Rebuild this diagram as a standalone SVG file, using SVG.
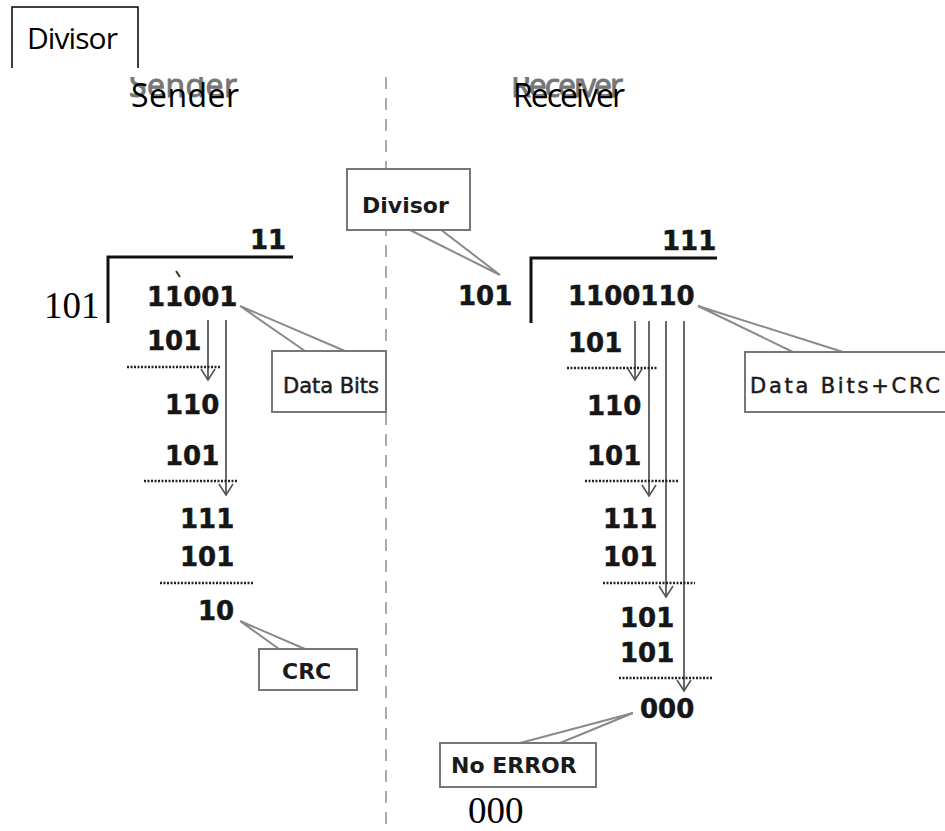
<svg xmlns="http://www.w3.org/2000/svg" width="945" height="831" viewBox="0 0 945 831">
<style>
.bd{font-family:"DejaVu Sans",Verdana,sans-serif;font-weight:bold;font-size:26px;fill:#161616;stroke:#161616;stroke-width:0.5}
.lbl{font-family:"DejaVu Sans",Verdana,sans-serif;font-size:21px;fill:#1a1a1a;stroke:#1a1a1a;stroke-width:0.5}
.lblb{font-family:"DejaVu Sans",Verdana,sans-serif;font-weight:bold;font-size:22px;fill:#1a1a1a}
.ser{font-family:"Liberation Serif","Times New Roman",serif;font-size:37px;fill:#000}
.hd{font-family:"Open Sans","Noto Sans",sans-serif;font-size:32px;fill:#000}
.ghost{font-family:"Open Sans","Noto Sans",sans-serif;font-size:32px;fill:#555;stroke:#555;stroke-width:1;opacity:0.8}
.box{fill:#fff;stroke:#777;stroke-width:2}
.call{fill:none;stroke:#8a8a8a;stroke-width:2}
.arr{fill:none;stroke:#444;stroke-width:1.6}
.dot{fill:none;stroke:#222;stroke-width:2.5;stroke-dasharray:2 1.5}
.rule{fill:none;stroke:#111;stroke-width:3}
</style>
<defs>
<marker id="ah" viewBox="-13 -9 15 18" refX="0" refY="0" markerUnits="userSpaceOnUse" markerWidth="15" markerHeight="18" orient="auto">
<path d="M-11,-7 L0,0 L-11,7" fill="none" stroke="#555" stroke-width="1.6"/>
</marker>
<clipPath id="gc"><rect x="100" y="77" width="600" height="30"/></clipPath>
</defs>
<rect width="945" height="831" fill="#fff"/>

<g id="divider">
<line x1="386" y1="77" x2="386" y2="831" stroke="#aaa" stroke-width="2" stroke-dasharray="12 9"/>
</g>

<g id="legend-divisor">
<path d="M12,68 V7 H138 V68" fill="none" stroke="#000" stroke-width="1.5"/>
<text x="27" y="49" font-family="'Open Sans','Noto Sans',sans-serif" font-size="30" textLength="91" fill="#000">Divisor</text>
</g>

<g id="title-sender">
<text class="ghost" x="129" y="97" clip-path="url(#gc)" textLength="108">Sender</text>
<text class="hd" x="131" y="107" textLength="108">Sender</text>
</g>
<g id="title-receiver">
<text class="ghost" x="511" y="97" clip-path="url(#gc)" textLength="112">Receiver</text>
<text class="hd" x="513" y="107" textLength="112">Receiver</text>
</g>

<g id="connectors">
<line class="arr" x1="208" y1="320" x2="208" y2="380" marker-end="url(#ah)"/>
<line class="arr" x1="226" y1="320" x2="226" y2="495" marker-end="url(#ah)"/>
<line class="arr" x1="635" y1="321" x2="635" y2="380" marker-end="url(#ah)"/>
<line class="arr" x1="649" y1="321" x2="649" y2="496" marker-end="url(#ah)"/>
<line class="arr" x1="666" y1="321" x2="666" y2="597" marker-end="url(#ah)"/>
<line class="arr" x1="684" y1="321" x2="684" y2="691" marker-end="url(#ah)"/>
<path class="call" d="M240,306 L305,351 M240,306 L345,351"/>
<path class="call" d="M240,621 L279,649 M240,621 L305,649"/>
<path class="call" d="M408,229 L500,275 M440,229 L500,275"/>
<path class="call" d="M698,306 L793,352 M698,306 L843,352"/>
<path class="call" d="M633,713 L520,743 M633,713 L560,743"/>
</g>

<g id="sender-division">
<path class="rule" d="M108,323 V257 H293"/>
<text class="bd" x="250" y="249">11</text>
<text class="ser" x="44" y="318">101</text>
<text class="bd" x="147" y="306">11001</text>
<line x1="176" y1="271" x2="180" y2="277" stroke="#333" stroke-width="2"/>
<text class="bd" x="147" y="350">101</text>
<line class="dot" x1="127" y1="367" x2="220" y2="367"/>
<text class="bd" x="165" y="414">110</text>
<text class="bd" x="165" y="465">101</text>
<line class="dot" x1="144" y1="481" x2="237" y2="481"/>
<text class="bd" x="180" y="528">111</text>
<text class="bd" x="180" y="566">101</text>
<line class="dot" x1="160" y1="583" x2="253" y2="583"/>
<text class="bd" x="198" y="620">10</text>
</g>

<g id="receiver-division">
<path class="rule" d="M531,323 V258 H717"/>
<text class="bd" x="662" y="250">111</text>
<text class="bd" x="458" y="305">101</text>
<text class="bd" x="568" y="305">1100110</text>
<text class="bd" x="568" y="352">101</text>
<line class="dot" x1="567" y1="368" x2="658" y2="368"/>
<text class="bd" x="587" y="415">110</text>
<text class="bd" x="587" y="465">101</text>
<line class="dot" x1="585" y1="481" x2="679" y2="481"/>
<text class="bd" x="603" y="528">111</text>
<text class="bd" x="603" y="566">101</text>
<line class="dot" x1="603" y1="583" x2="695" y2="583"/>
<text class="bd" x="620" y="627">101</text>
<text class="bd" x="620" y="662">101</text>
<line class="dot" x1="619" y1="678" x2="712" y2="678"/>
<text class="bd" x="640" y="718">000</text>
</g>

<g id="node-divisor">
<rect class="box" x="347" y="169" width="123" height="61"/>
<text class="lblb" x="362" y="213">Divisor</text>
</g>
<g id="node-databits">
<rect class="box" x="272" y="351" width="114" height="61"/>
<text class="lbl" x="283" y="393" textLength="96">Data Bits</text>
</g>
<g id="node-crc">
<rect class="box" x="259" y="649" width="98" height="41"/>
<text class="lblb" x="282" y="679">CRC</text>
</g>
<g id="node-databitscrc">
<rect class="box" x="745" y="352" width="205" height="60"/>
<text class="lbl" x="750" y="393" font-size="23" textLength="190">Data Bits+CRC</text>
</g>
<g id="node-noerror">
<rect class="box" x="440" y="743" width="156" height="44"/>
<text class="lblb" x="451" y="773" font-size="23">No ERROR</text>
</g>

<g id="overlay-text">
<text class="ser" x="468" y="823" font-size="36">000</text>
</g>
</svg>
